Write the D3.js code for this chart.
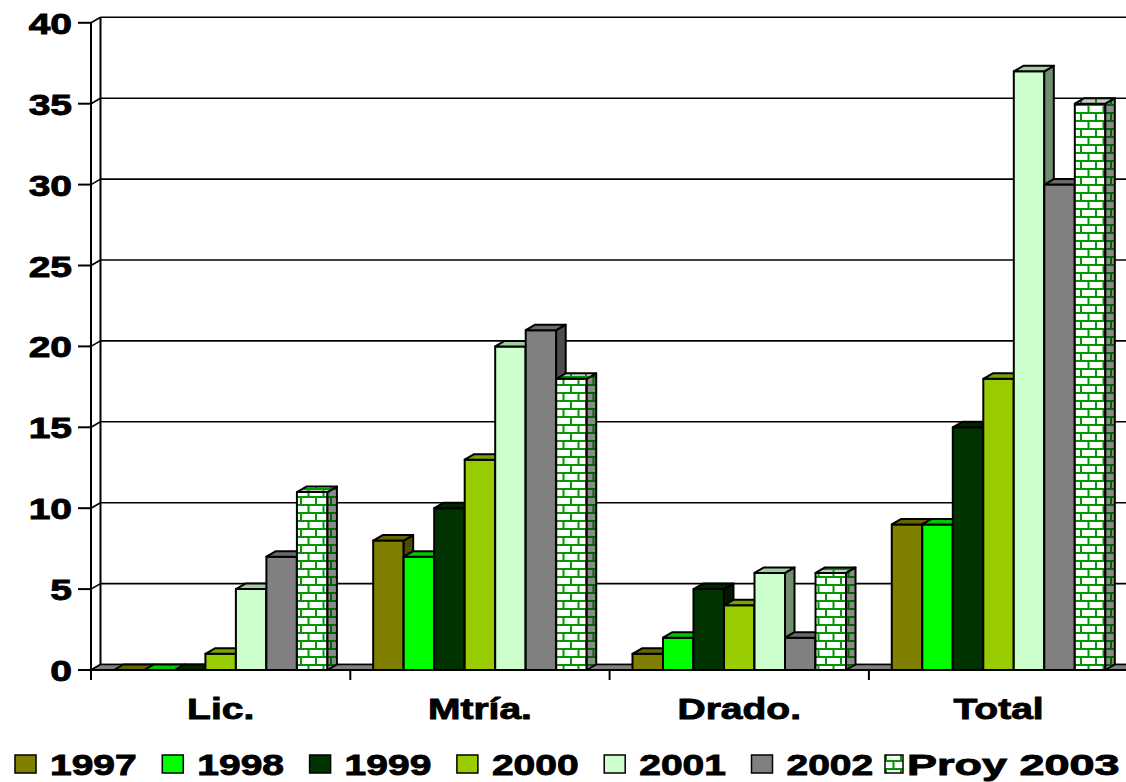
<!DOCTYPE html>
<html><head><meta charset="utf-8">
<script src="https://cdn.jsdelivr.net/npm/d3@7"></script>
<style>html,body{margin:0;padding:0;background:#fff;overflow:hidden}</style>
</head><body>
<svg id="c" width="1126" height="782"></svg>
<script>
const categories = ["Lic.", "Mtría.", "Drado.", "Total"];
const seriesNames = ["1997", "1998", "1999", "2000", "2001", "2002", "Proy 2003"];
const v1997 = [0, 8, 1, 9];
const v1998 = [0, 7, 2, 9];
const v1999 = [0, 10, 5, 15];
const v2000 = [1, 13, 4, 18];
const v2001 = [5, 20, 6, 37];
const v2002 = [7, 21, 2, 30];
const vProy2003 = [11, 18, 6, 35];
const yTickValues = [0, 5, 10, 15, 20, 25, 30, 35, 40];

const seriesValues = [v1997, v1998, v1999, v2000, v2001, v2002, vProy2003];
const frontFill = ["#808000", "#00ff00", "#003300", "#99cc00", "#ccffcc", "#808080", "url(#brick)"];
const topFill = ["#666600", "#00c800", "#002600", "#7aa300", "#a3cca3", "#6a6a6a", "url(#brickTop)"];
const sideFill = ["#4d4d00", "#009900", "#001a00", "#5c7a00", "#6f8f6f", "#4d4d4d", "url(#brickSide)"];

const svg = d3.select("#c");
const FONT = "'Liberation Sans', Arial, sans-serif";
const SX = 1.3;
const DX = 9.5, DY = -5.5;

// patterns
const defs = svg.append("defs");
function brick(id, bg, line) {
  const p = defs.append("pattern").attr("id", id).attr("patternUnits", "userSpaceOnUse")
    .attr("width", 15).attr("height", 16);
  p.append("rect").attr("width", 15).attr("height", 16).attr("fill", bg);
  const g = p.append("g").attr("stroke", line).attr("stroke-width", 2);
  g.append("line").attr("x1", 0).attr("x2", 15).attr("y1", 1).attr("y2", 1);
  g.append("line").attr("x1", 0).attr("x2", 15).attr("y1", 9).attr("y2", 9);
  g.append("line").attr("x1", 1).attr("x2", 1).attr("y1", 1).attr("y2", 9);
  g.append("line").attr("x1", 8.5).attr("x2", 8.5).attr("y1", 9).attr("y2", 16);
}
brick("brick", "#ffffff", "#009900");
brick("brickTop", "#c8c8c8", "#009900");
brick("brickSide", "#8a8a8a", "#006600");

const y = d3.scaleLinear().domain([0, 40]).range([670, 22.8]);
const x = d3.scaleBand().domain(categories).range([91, 1128.2]).paddingInner(0).paddingOuter(0);
const xs = d3.scaleBand().domain(seriesNames).range([0, x.bandwidth()]).paddingInner(0).paddingOuter(0.75);

const y0 = y(0);
const xLeft = 91, xRight = 1140;

// back wall gridlines
const walls = svg.append("g");
walls.selectAll("line.grid").data(yTickValues).join("line")
  .attr("x1", xLeft + DX).attr("x2", xRight)
  .attr("y1", d => y(d) + DY).attr("y2", d => y(d) + DY)
  .attr("stroke", "#000").attr("stroke-width", 1.6);
// side wall diagonals
walls.selectAll("line.diag").data(yTickValues).join("line")
  .attr("x1", xLeft).attr("x2", xLeft + DX)
  .attr("y1", d => y(d)).attr("y2", d => y(d) + DY)
  .attr("stroke", "#000").attr("stroke-width", 1.6);
// back wall left edge
walls.append("line").attr("x1", xLeft + DX).attr("x2", xLeft + DX)
  .attr("y1", y(40) + DY).attr("y2", y0 + DY).attr("stroke", "#000").attr("stroke-width", 2);

// floor
svg.append("path")
  .attr("d", `M${xLeft},${y0} L${xLeft + DX},${y0 + DY} L${xRight},${y0 + DY} L${xRight},${y0} Z`)
  .attr("fill", "#808080").attr("stroke", "#000").attr("stroke-width", 1.5);

// bars
const bars = svg.append("g").attr("stroke", "#000").attr("stroke-width", 2).attr("stroke-linejoin", "round");
categories.forEach((cat, ci) => {
  seriesNames.forEach((s, si) => {
    const v = seriesValues[si][ci];
    const x0 = x(cat) + xs(s), x1 = x0 + xs.bandwidth();
    const yt = y(v);
    const g = bars.append("g");
    if (v > 0) {
      g.append("rect").attr("x", x0).attr("y", yt).attr("width", x1 - x0).attr("height", y0 - yt)
        .attr("fill", frontFill[si]);
      g.append("path")
        .attr("d", `M${x1},${y0} L${x1 + DX},${y0 + DY} L${x1 + DX},${yt + DY} L${x1},${yt} Z`)
        .attr("fill", sideFill[si]);
    }
    g.append("path")
      .attr("d", `M${x0},${yt} L${x0 + DX},${yt + DY} L${x1 + DX},${yt + DY} L${x1},${yt} Z`)
      .attr("fill", topFill[si]);
  });
});

// axes lines
const axes = svg.append("g").attr("stroke", "#000").attr("stroke-width", 2);
axes.append("line").attr("x1", xLeft).attr("x2", xLeft).attr("y1", y(40)).attr("y2", y0 + 1);
axes.append("line").attr("x1", xLeft).attr("x2", xRight).attr("y1", y0).attr("y2", y0);
axes.selectAll("line.yt").data(yTickValues).join("line")
  .attr("x1", 78).attr("x2", xLeft).attr("y1", d => y(d)).attr("y2", d => y(d));
const catTicks = categories.map(c => x(c)).concat([x(categories[categories.length - 1]) + x.bandwidth()]);
axes.selectAll("line.xt").data(catTicks).join("line")
  .attr("x1", d => d).attr("x2", d => d).attr("y1", y0).attr("y2", y0 + 10);

function styleText(sel) {
  return sel.attr("font-family", FONT).attr("font-weight", "bold").attr("font-size", 30)
    .attr("fill", "#000").attr("stroke", "#000").attr("stroke-width", 0.9);
}

// y labels
styleText(svg.append("g").selectAll("text").data(yTickValues).join("text")
  .attr("transform", d => `translate(72,${y(d) + 11}) scale(${SX},1)`)
  .attr("text-anchor", "end")).text(d => d);

// x labels
styleText(svg.append("g").selectAll("text").data(categories).join("text")
  .attr("transform", d => `translate(${x(d) + x.bandwidth() / 2},719) scale(${SX},1)`)
  .attr("text-anchor", "middle")).text(d => d);

// legend
const leg = svg.append("g");
seriesNames.forEach((s, i) => {
  let sx = 15 + i * 147.3;
  let tx = sx + 35;
  if (i === seriesNames.length - 1) { sx = 885; tx = 907; }
  leg.append("rect").attr("x", sx).attr("y", 755).attr("width", i === 6 ? 18 : 21).attr("height", 18)
    .attr("fill", frontFill[i]).attr("stroke", "#000").attr("stroke-width", 1.5);
  styleText(leg.append("text")
    .attr("transform", `translate(${tx},775) scale(${i === 6 ? 1.5 : SX},1)`)).text(s);
});
</script>
</body></html>
